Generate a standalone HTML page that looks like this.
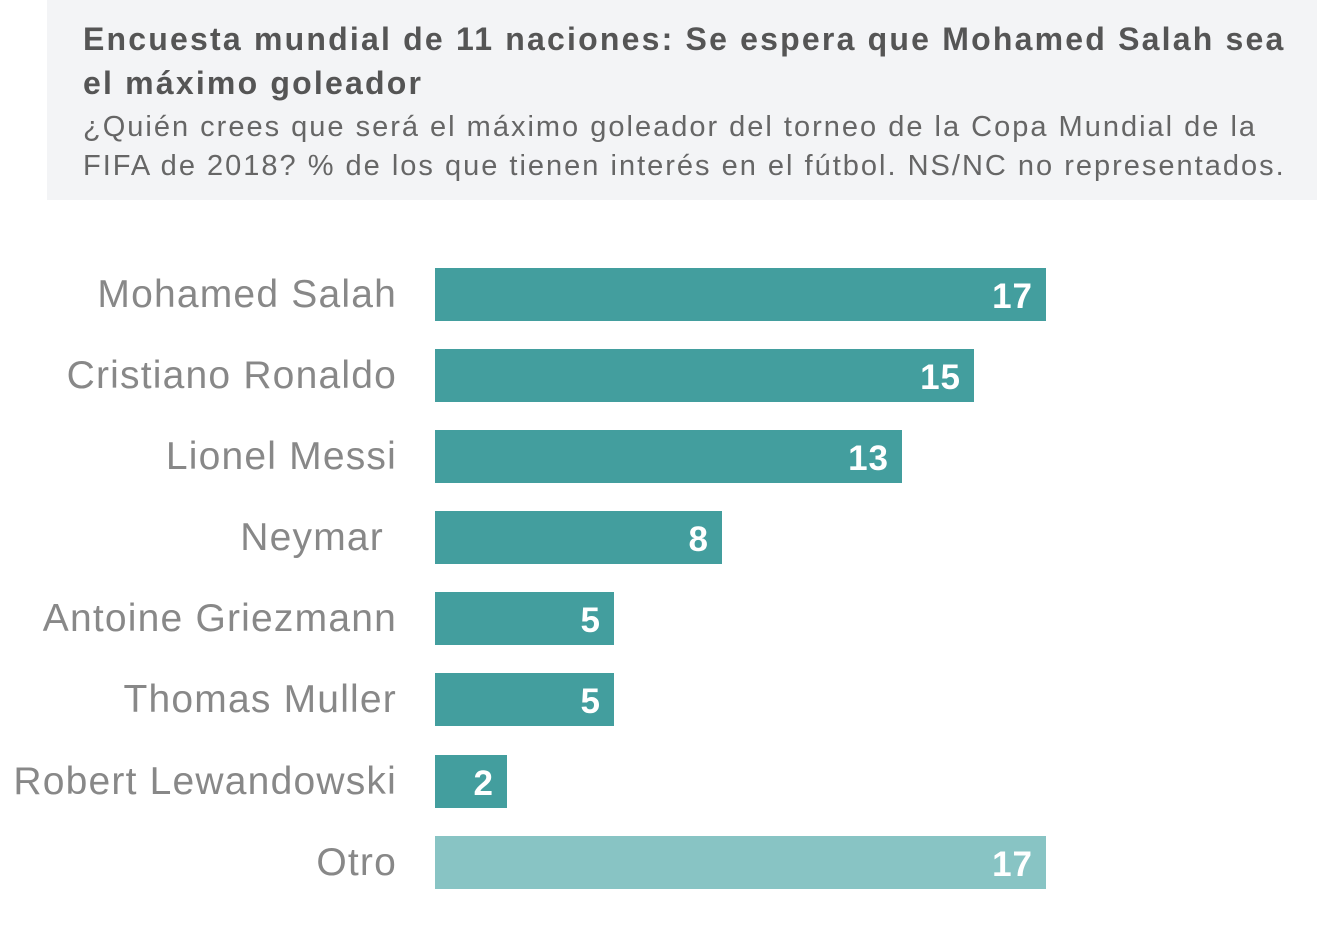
<!DOCTYPE html>
<html><head><meta charset="utf-8"><style>
body{margin:0;width:1332px;height:926px;background:#fff;position:relative;overflow:hidden;font-family:"Liberation Sans",sans-serif}
.hdr{position:absolute;left:47px;top:0;width:1270px;height:200px;background:#f3f4f6}
.t{position:absolute;left:83px;font-weight:bold;font-size:32px;color:#555;white-space:nowrap;letter-spacing:2.2px}
.s{position:absolute;left:83px;font-size:29px;color:#666;white-space:nowrap;letter-spacing:2px}
.lb{position:absolute;right:935px;font-size:39px;color:#888;white-space:nowrap;line-height:53px;height:53px;letter-spacing:1.2px}
.bar{position:absolute;left:435px;height:53px;background:#439e9e}
.v{position:absolute;right:13px;top:2px;line-height:53px;color:#fff;font-weight:bold;font-size:35px;letter-spacing:1px}
</style></head><body>
<div class="hdr"></div>
<div class="t" style="top:21px">Encuesta mundial de 11 naciones: Se espera que Mohamed Salah sea</div>
<div class="t" style="top:65px">el máximo goleador</div>
<div class="s" style="top:111px">¿Quién crees que será el máximo goleador del torneo de la Copa Mundial de la</div>
<div class="s" style="top:150px">FIFA de 2018? % de los que tienen interés en el fútbol. NS/NC no representados.</div>

<div class="lb" style="top:268px">Mohamed Salah</div><div class="bar" style="top:268px;width:611px"><span class="v">17</span></div>
<div class="lb" style="top:349px">Cristiano Ronaldo</div><div class="bar" style="top:349px;width:539px"><span class="v">15</span></div>
<div class="lb" style="top:430px">Lionel Messi</div><div class="bar" style="top:430px;width:467px"><span class="v">13</span></div>
<div class="lb" style="top:511px;right:948px">Neymar</div><div class="bar" style="top:511px;width:287px"><span class="v">8</span></div>
<div class="lb" style="top:592px">Antoine Griezmann</div><div class="bar" style="top:592px;width:179px"><span class="v">5</span></div>
<div class="lb" style="top:673px">Thomas Muller</div><div class="bar" style="top:673px;width:179px"><span class="v">5</span></div>
<div class="lb" style="top:755px">Robert Lewandowski</div><div class="bar" style="top:755px;width:72px"><span class="v">2</span></div>
<div class="lb" style="top:836px">Otro</div><div class="bar" style="top:836px;width:611px;background:#88c4c4"><span class="v">17</span></div>
</body></html>
